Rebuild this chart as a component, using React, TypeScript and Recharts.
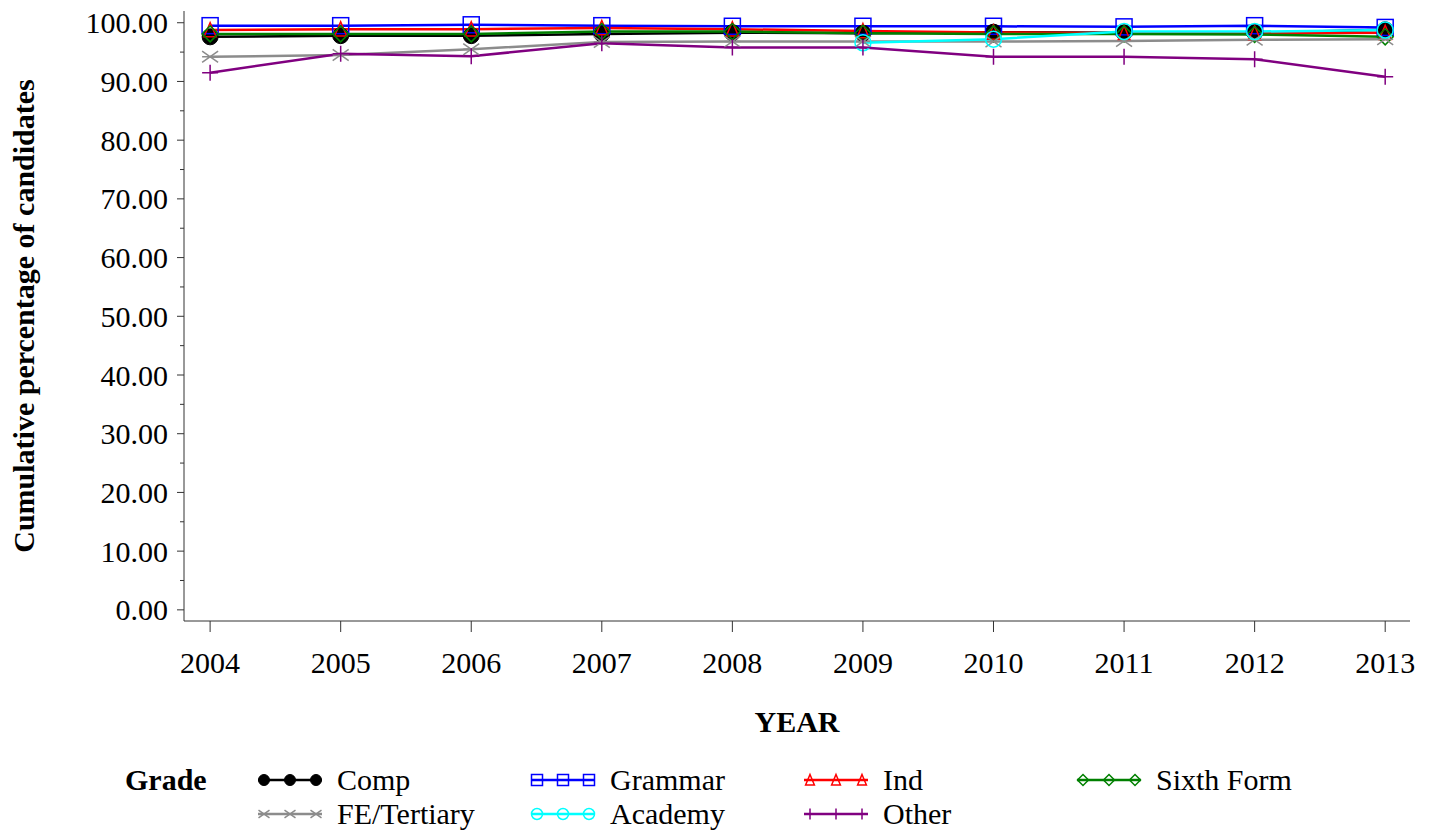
import React from 'react';
import { LineChart, Line, XAxis, YAxis, Legend } from 'recharts';

const years = [2004, 2005, 2006, 2007, 2008, 2009, 2010, 2011, 2012, 2013];
const comp = [97.6, 97.8, 97.8, 98.1, 98.3, 98.2, 98.4, 98.3, 98.3, 98.8];
const grammar = [99.5, 99.5, 99.65, 99.5, 99.4, 99.4, 99.4, 99.3, 99.5, 99.2];
const ind = [98.75, 98.9, 98.9, 99.1, 98.9, 98.6, 98.35, 98.2, 98.2, 98.3];
const sixthForm = [98.1, 98.1, 98.1, 98.5, 98.5, 98.2, 98.1, 98.1, 98.0, 97.6];
const feTertiary = [94.2, 94.5, 95.5, 96.7, 96.8, 96.8, 96.8, 96.9, 97.1, 97.2];
const academy = [null, null, null, null, null, 96.6, 97.2, 98.5, 98.5, 98.75];
const other = [91.5, 94.7, 94.3, 96.5, 95.8, 95.8, 94.2, 94.2, 93.8, 90.8];

const yTicks = [0, 5, 10, 15, 20, 25, 30, 35, 40, 45, 50, 55, 60, 65, 70, 75, 80, 85, 90, 95, 100];

const FONT = 'Liberation Serif, Times New Roman, serif';
const textStyle = { fontFamily: FONT, fontSize: 30 };

type Shape = 'dot' | 'square' | 'triangle' | 'diamond' | 'star' | 'circle' | 'plus';

const series: { key: string; name: string; color: string; shape: Shape; values: (number | null)[] }[] = [
    { key: 'comp', name: 'Comp', color: '#000000', shape: 'dot', values: comp },
    { key: 'grammar', name: 'Grammar', color: '#0000FF', shape: 'square', values: grammar },
    { key: 'ind', name: 'Ind', color: '#FF0000', shape: 'triangle', values: ind },
    { key: 'sixth', name: 'Sixth Form', color: '#008000', shape: 'diamond', values: sixthForm },
    { key: 'fe', name: 'FE/Tertiary', color: '#8C8C8C', shape: 'star', values: feTertiary },
    { key: 'academy', name: 'Academy', color: '#00FFFF', shape: 'circle', values: academy },
    { key: 'other', name: 'Other', color: '#800080', shape: 'plus', values: other },
];

const data = years.map((year, i) => {
    const row: any = { year };
    series.forEach((s) => {
        row[s.key] = s.values[i];
    });
    return row;
});

const Marker = ({ shape, x, y, color, size }: { shape: Shape; x: number; y: number; color: string; size: number }) => {
    const r = size / 2;
    const sw = 1.5;
    switch (shape) {
        case 'dot':
            return <circle cx={x} cy={y} r={r} fill={color} stroke={color} />;
        case 'square':
            return <rect x={x - r} y={y - r} width={size} height={size} fill="none" stroke={color} strokeWidth={sw} />;
        case 'triangle':
            return (
                <polygon
                    points={`${x},${y - r} ${x + r * 0.8},${y + r * 0.9} ${x - r * 0.8},${y + r * 0.9}`}
                    fill="none"
                    stroke={color}
                    strokeWidth={sw}
                />
            );
        case 'diamond':
            return (
                <polygon
                    points={`${x},${y - r} ${x + r},${y} ${x},${y + r} ${x - r},${y}`}
                    fill="none"
                    stroke={color}
                    strokeWidth={sw}
                />
            );
        case 'star':
            return (
                <path
                    d={`M${x - r},${y - r * 0.7}L${x + r},${y + r * 0.7}M${x - r},${y + r * 0.7}L${x + r},${y - r * 0.7}M${x - r},${y}L${x + r},${y}`}
                    stroke={color}
                    strokeWidth={sw}
                    fill="none"
                />
            );
        case 'circle':
            return <circle cx={x} cy={y} r={r} fill="none" stroke={color} strokeWidth={sw} />;
        case 'plus':
            return (
                <path d={`M${x},${y - r}L${x},${y + r}M${x - r},${y}L${x + r},${y}`} stroke={color} strokeWidth={sw} fill="none" />
            );
    }
    return null;
};

const YTick = (props: any) => {
    const { x, y, payload } = props;
    const major = payload.value % 10 === 0;
    return (
        <g>
            <line x1={x - (major ? 7 : 4)} x2={x} y1={y} y2={y} stroke="#333" />
            {major && (
                <text x={x - 16} y={y} dy="0.35em" textAnchor="end" style={textStyle} fill="#000">
                    {payload.value.toFixed(2)}
                </text>
            )}
        </g>
    );
};

const XTick = (props: any) => {
    const { x, y, payload } = props;
    return (
        <text x={x} y={y} dy="0.71em" textAnchor="middle" style={textStyle} fill="#000">
            {payload.value}
        </text>
    );
};

const YTitle = (props: any) => {
    const vb = props.viewBox;
    const cx = vb.x + 23;
    const cy = vb.y + vb.height / 2;
    return (
        <text x={cx} y={cy} transform={`rotate(-90, ${cx}, ${cy})`} textAnchor="middle" dy="0.35em" style={{ ...textStyle, fontWeight: 'bold' }} fill="#000">
            Cumulative percentage of candidates
        </text>
    );
};

const XTitle = (props: any) => {
    const vb = props.viewBox;
    return (
        <text x={vb.x + vb.width / 2} y={vb.y + 111} textAnchor="middle" style={{ ...textStyle, fontWeight: 'bold' }} fill="#000">
            YEAR
        </text>
    );
};

const LegendBox = () => (
    <svg width={1432} height={80} style={{ display: 'block', overflow: 'visible' }}>
        <text x={125} y={31} style={{ ...textStyle, fontWeight: 'bold' }} fill="#000">
            Grade
        </text>
        {series.map((s, i) => {
            const sx = 258 + (i % 4) * 273;
            const cy = 21 + Math.floor(i / 4) * 34;
            return (
                <g key={s.key}>
                    <line x1={sx} x2={sx + 64} y1={cy} y2={cy} stroke={s.color} strokeWidth={2.5} />
                    {[6, 32, 58].map((d) => (
                        <Marker key={d} shape={s.shape} x={sx + d} y={cy} color={s.color} size={11} />
                    ))}
                    <text x={sx + 79} y={cy + 10} style={textStyle} fill="#000">
                        {s.name}
                    </text>
                </g>
            );
        })}
    </svg>
);

export default function App() {
    return (
        <div style={{ position: 'absolute', left: 0, top: 0, width: 1432, height: 831, background: '#fff', fontFamily: FONT }}>
            <LineChart width={1432} height={831} data={data} margin={{ top: 11, right: 22, bottom: 90, left: 0 }}>
                <XAxis
                    dataKey="year"
                    type="number"
                    domain={[2003.8, 2013.19]}
                    ticks={years}
                    allowDataOverflow
                    height={120}
                    tickSize={11}
                    tickMargin={20}
                    stroke="#333"
                    tick={<XTick />}
                    label={XTitle}
                />
                <XAxis
                    xAxisId="top"
                    orientation="top"
                    dataKey="year"
                    type="number"
                    domain={[2003.8, 2013.19]}
                    height={0}
                    tick={false}
                    tickLine={false}
                    stroke="#333"
                />
                <YAxis
                    type="number"
                    domain={[-1.9, 102]}
                    ticks={yTicks}
                    allowDataOverflow
                    interval={0}
                    width={184}
                    tickSize={0}
                    tickMargin={0}
                    tickLine={false}
                    stroke="#333"
                    tick={<YTick />}
                    label={YTitle}
                />
                <YAxis yAxisId="right" orientation="right" domain={[-1.9, 102]} width={0} tick={false} tickLine={false} stroke="#333" />
                <Legend
                    layout="vertical"
                    align="center"
                    verticalAlign="middle"
                    wrapperStyle={{ position: 'absolute', left: 0, top: 759, width: 1432 }}
                    content={() => <LegendBox />}
                />
                {series.map((s) => (
                    <Line
                        key={s.key}
                        dataKey={s.key}
                        name={s.name}
                        stroke={s.color}
                        strokeWidth={2.5}
                        isAnimationActive={false}
                        activeDot={false}
                        dot={(p: any) =>
                            p.cy == null ? (
                                <g key={`${s.key}-${p.index}`} />
                            ) : (
                                <g key={`${s.key}-${p.index}`}>
                                    <Marker shape={s.shape} x={p.cx} y={p.cy} color={s.color} size={s.shape === 'triangle' ? 15 : 16} />
                                </g>
                            )
                        }
                    />
                ))}
            </LineChart>
        </div>
    );
}
